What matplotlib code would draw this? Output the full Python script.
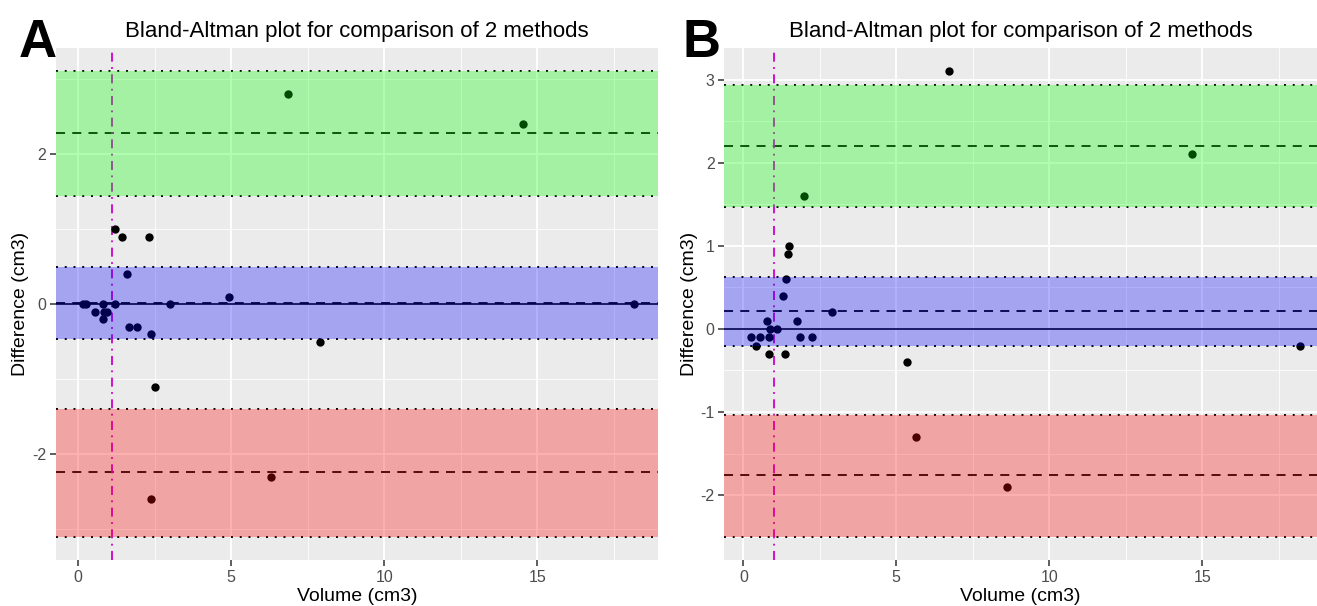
import numpy as np
import matplotlib.pyplot as plt
from matplotlib.ticker import MultipleLocator

plt.rcParams['font.family'] = ['Liberation Sans', 'DejaVu Sans']
plt.rcParams['axes.unicode_minus'] = False

# panel A data
a_x = [6.85, 14.53, 6.29, 2.38, 2.51, 7.90, 4.93, 18.16,
       1.20, 1.44, 2.32, 1.59, 0.16, 0.27, 0.80, 1.20, 3.00,
       0.55, 0.85, 0.95, 0.80, 1.65, 1.94, 2.40]
a_y = [2.8, 2.4, -2.3, -2.6, -1.1, -0.5, 0.1, 0.0,
       1.0, 0.9, 0.9, 0.4, 0.0, 0.0, 0.0, 0.0, 0.0,
       -0.1, -0.1, -0.1, -0.2, -0.3, -0.3, -0.4]
a_mean, a_mean_ci = 0.02, (-0.46, 0.50)
a_upper, a_upper_ci = 2.29, (1.44, 3.106)
a_lower, a_lower_ci = -2.24, (-3.098, -1.40)
a_vline = 1.12

# panel B data
b_x = [6.72, 14.66, 1.98, 5.64, 8.62, 5.35, 18.20,
       1.50, 1.46, 1.40, 1.29, 0.76, 1.75, 0.87, 1.11, 2.90,
       0.25, 0.55, 0.85, 0.40, 1.84, 2.25, 0.85, 1.37]
b_y = [3.1, 2.1, 1.6, -1.3, -1.9, -0.4, -0.2,
       1.0, 0.9, 0.6, 0.4, 0.1, 0.1, 0.0, 0.0, 0.2,
       -0.1, -0.1, -0.1, -0.2, -0.1, -0.1, -0.3, -0.3]
b_mean, b_mean_ci = 0.22, (-0.21, 0.63)
b_upper, b_upper_ci = 2.20, (1.47, 2.94)
b_lower, b_lower_ci = -1.76, (-2.50, -1.03)
b_vline = 1.01

fig = plt.figure(figsize=(13.17, 6.06), dpi=100)
axA = fig.add_axes([0.0425, 0.0759, 0.457, 0.845])
axB = fig.add_axes([0.55, 0.0759, 0.45, 0.845])


def ba_panel(ax, x, y, mean, mean_ci, upper, upper_ci, lower, lower_ci, vline,
             xlim, ylim, ymajor):
    ax.set_facecolor('#ebebeb')
    for s in ax.spines.values():
        s.set_visible(False)
    ax.xaxis.set_major_locator(MultipleLocator(5))
    ax.xaxis.set_minor_locator(MultipleLocator(2.5))
    ax.yaxis.set_major_locator(MultipleLocator(ymajor))
    ax.yaxis.set_minor_locator(MultipleLocator(ymajor / 2))
    ax.grid(which='major', color='white', lw=1.3, zorder=0)
    ax.grid(which='minor', color='white', lw=0.6, zorder=0)
    ax.set_axisbelow(True)
    ax.tick_params(which='major', length=4, width=1.1, color='#333333',
                   labelsize=11.5, labelcolor='#4d4d4d', pad=3)
    ax.tick_params(which='minor', length=0)

    ax.scatter(x, y, s=36, color='black', zorder=3, linewidths=0)
    ax.axhline(0, color='black', lw=1.2, zorder=2)
    for v in (mean, upper, lower):
        ax.axhline(v, color='black', lw=1.3, ls=(0, (5, 4)), zorder=2)
    for v in (*mean_ci, *upper_ci, *lower_ci):
        ax.axhline(v, color='black', lw=1.4, ls=(0, (1, 3.5)), zorder=2)
    ax.axvline(vline, color='#cc00cc', lw=1.3, ls=(0, (5, 3, 1, 3)), zorder=2)

    ax.axhspan(*upper_ci, color='#00ff00', alpha=0.3, lw=0, zorder=4)
    ax.axhspan(*mean_ci, color='#0000ff', alpha=0.3, lw=0, zorder=4)
    ax.axhspan(*lower_ci, color='#ff0000', alpha=0.3, lw=0, zorder=4)

    ax.set_xlim(*xlim)
    ax.set_ylim(*ylim)
    ax.set_xlabel('Volume (cm3)', fontsize=14, labelpad=2)
    ax.set_ylabel('Difference (cm3)', fontsize=14, labelpad=2)
    ax.set_title('Bland-Altman plot for comparison of 2 methods',
                 fontsize=16, pad=8)


ba_panel(axA, a_x, a_y, a_mean, a_mean_ci, a_upper, a_upper_ci, a_lower,
         a_lower_ci, a_vline, (-0.72, 18.94), (-3.41, 3.42), 2)
ba_panel(axB, b_x, b_y, b_mean, b_mean_ci, b_upper, b_upper_ci, b_lower,
         b_lower_ci, b_vline, (-0.62, 18.75), (-2.78, 3.38), 1)

fig.text(0.0140, 0.906, 'A', fontsize=38, fontweight='bold', va='baseline')
fig.text(0.5186, 0.906, 'B', fontsize=38, fontweight='bold', va='baseline')

fig.savefig('out.png', dpi=100)
